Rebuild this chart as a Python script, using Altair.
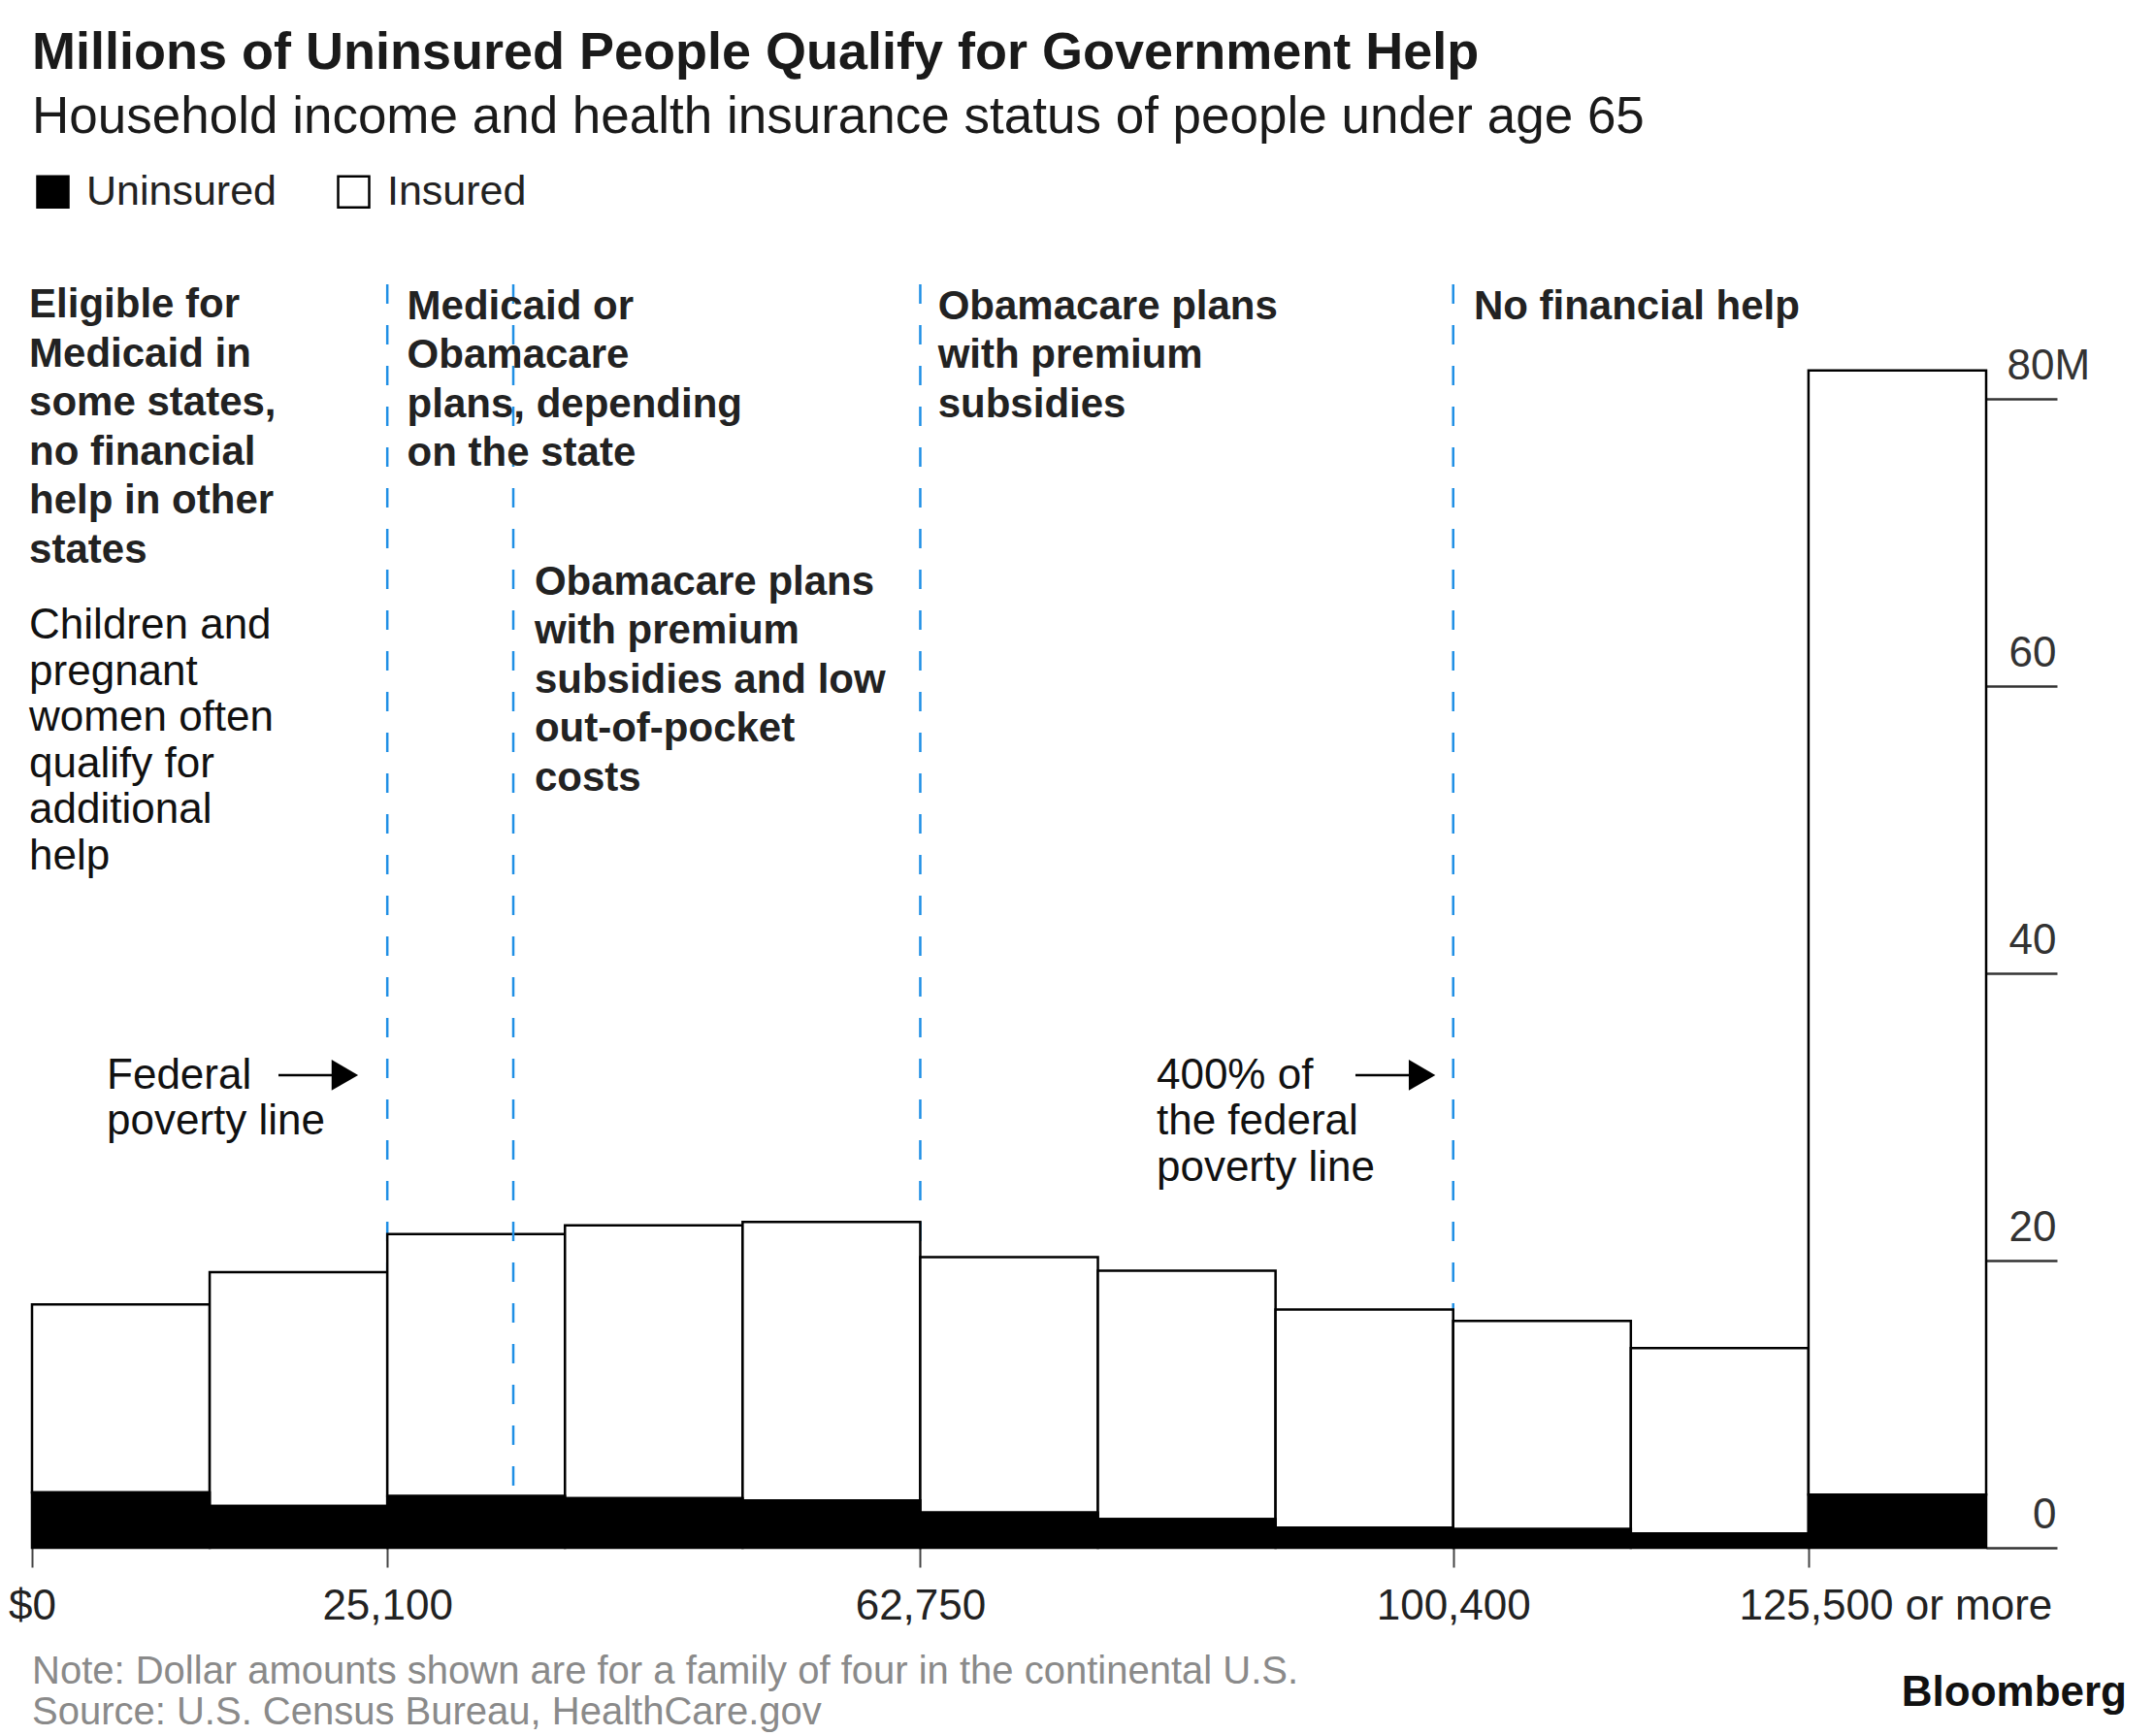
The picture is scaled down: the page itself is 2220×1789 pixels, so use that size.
import altair as alt
import pandas as pd

# ---- data ----
bin_start = [0, 12550, 25100, 37650, 50200, 62750, 75300, 87850, 100400, 112950, 125500]
bin_end = [12550, 25100, 37650, 50200, 62750, 75300, 87850, 100400, 112950, 125500, 138050]
uninsured = [3.85, 2.9, 3.6, 3.45, 3.3, 2.45, 2.0, 1.4, 1.3, 1.0, 3.7]
insured = [13.1, 16.3, 18.25, 19.0, 19.4, 17.8, 17.3, 15.2, 14.5, 12.9, 78.3]

x_ticks = [0, 25100, 62750, 100400, 125500]
y_ticks = [0, 20, 40, 60, 80]

rules_behind = [25100, 62750, 100400]
rules_front = [34000]

bold_x = [-200, 26500, 35500, 64000, 101850]
bold_y = [85.7, 85.6, 66.4, 85.6, 85.6]
bold_text = [
    "Eligible for\nMedicaid in\nsome states,\nno financial\nhelp in other\nstates",
    "Medicaid or\nObamacare\nplans, depending\non the state",
    "Obamacare plans\nwith premium\nsubsidies and low\nout-of-pocket\ncosts",
    "Obamacare plans\nwith premium\nsubsidies",
    "No financial help",
]
reg_x = [-200, 5280, 79440]
reg_y = [63.33, 31.97, 31.97]
reg_text = [
    "Children and\npregnant\nwomen often\nqualify for\nadditional\nhelp",
    "Federal\npoverty line",
    "400% of\nthe federal\npoverty line",
]
arrow_x0 = [17410, 93494]
arrow_x1 = [22100, 98200]
arrow_y = [32.92, 32.92]

FONT = "Liberation Sans"
W, H = 2014, 1302
YMAX = 88

# ---- tables ----
rows = []
for s, e, u, i in zip(bin_start, bin_end, uninsured, insured):
    rows.append({"x0": s, "x1": e, "status": "Uninsured", "y0": 0, "y1": u})
    rows.append({"x0": s, "x1": e, "status": "Insured", "y0": u, "y1": u + i})
bars = pd.DataFrame(rows)
unins_df = bars[bars.status == "Uninsured"]
ins_df = bars[bars.status == "Insured"]

xs = alt.Scale(domain=[0, 138050], nice=False, zero=False)
ys = alt.Scale(domain=[0, YMAX], nice=False)

x_axis = alt.Axis(
    values=x_ticks, title=None, domain=False, grid=False,
    tickSize=20, tickWidth=2, tickColor="#444",
    labelFont=FONT, labelFontSize=44, labelColor="#222", labelPadding=18,
    labelExpr="datum.value == 0 ? '$0' : (datum.value == 125500 ? '125,500 or more' : format(datum.value, ','))",
    labelAlign={"condition": {"test": "datum.value == 125500", "value": "left"}, "value": "center"},
    labelOffset={"condition": {"test": "datum.value == 125500", "value": -72}, "value": 0},
    labelFlush=False, labelOverlap=False, labelLimit=600,
)
y_axis = alt.Axis(
    orient="right", values=y_ticks, title=None, domain=False, grid=False,
    tickSize=73, tickWidth=2.5, tickColor="#333",
    labelFont=FONT, labelFontSize=44, labelColor="#333",
    labelBaseline="alphabetic", labelOffset=-21,
    labelAlign={"condition": {"test": "datum.value == 80", "value": "left"}, "value": "right"},
    labelPadding={"condition": {"test": "datum.value == 80", "value": -52}, "value": -1},
    labelExpr="datum.value == 80 ? '80M' : datum.label",
    labelFlush=False, labelOverlap=False, labelBound=False,
)

color = alt.Color(
    "status:N",
    scale=alt.Scale(domain=["Uninsured", "Insured"], range=["#000000", "#ffffff"]),
    legend=alt.Legend(
        title=None, orient="none", legendX=0, legendY=-117, direction="horizontal",
        symbolType="square", symbolSize=1024, symbolStrokeColor="#000000",
        symbolStrokeWidth=2.5, labelFont=FONT, labelFontSize=43, labelColor="#222",
        labelOffset=13, columnPadding=58, labelLimit=400,
    ),
)

def bar_layer(df):
    return alt.Chart(df).mark_bar(stroke="#000000", strokeWidth=2.5).encode(
        x=alt.X("x0:Q", scale=xs, axis=x_axis),
        x2="x1:Q",
        y=alt.Y("y0:Q", scale=ys, axis=y_axis),
        y2="y1:Q",
        color=color,
    )

def rule_layer(vals):
    return alt.Chart(pd.DataFrame({"x": vals})).mark_rule(
        color="#1f8fe5", strokeWidth=2.5, strokeDash=[20, 22]
    ).encode(x=alt.X("x:Q", scale=xs), y=alt.value(0), y2=alt.value(H))

bold_df = pd.DataFrame({"x": bold_x, "y": bold_y, "t": bold_text})
reg_df = pd.DataFrame({"x": reg_x, "y": reg_y, "t": reg_text})
arr_df = pd.DataFrame({"x0": arrow_x0, "x1": arrow_x1, "y": arrow_y})

bold_txt = alt.Chart(bold_df).mark_text(
    align="left", baseline="alphabetic", font=FONT, fontSize=42, fontWeight="bold",
    color="#222222", lineBreak="\n", lineHeight=50.5,
).encode(x=alt.X("x:Q", scale=xs), y=alt.Y("y:Q", scale=ys), text="t:N")

reg_txt = alt.Chart(reg_df).mark_text(
    align="left", baseline="alphabetic", font=FONT, fontSize=44,
    color="#111111", lineBreak="\n", lineHeight=47.5,
).encode(x=alt.X("x:Q", scale=xs), y=alt.Y("y:Q", scale=ys), text="t:N")

arrow_line = alt.Chart(arr_df).mark_rule(color="#000000", strokeWidth=2.5).encode(
    x=alt.X("x0:Q", scale=xs), x2="x1:Q", y=alt.Y("y:Q", scale=ys)
)
arrow_head = alt.Chart(arr_df).mark_point(
    shape="triangle-right", filled=True, size=1000, color="#000000", opacity=1
).encode(x=alt.X("x1:Q", scale=xs), y=alt.Y("y:Q", scale=ys))

one = pd.DataFrame({"a": [0]})
footer = alt.Chart(one).mark_text(
    align="left", baseline="alphabetic", font=FONT, fontSize=40, color="#8a8a8a",
    lineBreak="\n", lineHeight=42,
).encode(
    x=alt.value(0), y=alt.value(1442),
    text=alt.value("Note: Dollar amounts shown are for a family of four in the continental U.S.\nSource: U.S. Census Bureau, HealthCare.gov"),
)
logo = alt.Chart(one).mark_text(
    align="right", baseline="alphabetic", font="Liberation Sans Narrow, Liberation Sans",
    fontSize=44, fontWeight="bold", color="#111111",
).encode(x=alt.value(2159), y=alt.value(1465), text=alt.value("Bloomberg"))

chart = alt.layer(
    rule_layer(rules_behind),
    bar_layer(ins_df),
    rule_layer(rules_front),
    bar_layer(unins_df),
    bold_txt, reg_txt, arrow_line, arrow_head, footer, logo,
).properties(
    width=W, height=H,
    background="#ffffff",
    padding={"left": 0, "top": 20, "right": 10, "bottom": 5},
    title=alt.TitleParams(
        text="Millions of Uninsured People Qualify for Government Help",
        subtitle="Household income and health insurance status of people under age 65",
        anchor="start", frame="group", font=FONT, fontSize=54, fontWeight="bold",
        color="#1a1a1a", subtitleFont=FONT, subtitleFontSize=53, subtitleColor="#1a1a1a",
        subtitlePadding=13, offset=28,
    ),
).configure_view(stroke="transparent", strokeWidth=0)

chart.save("out.html", embed_options={"renderer": "svg", "actions": False})
